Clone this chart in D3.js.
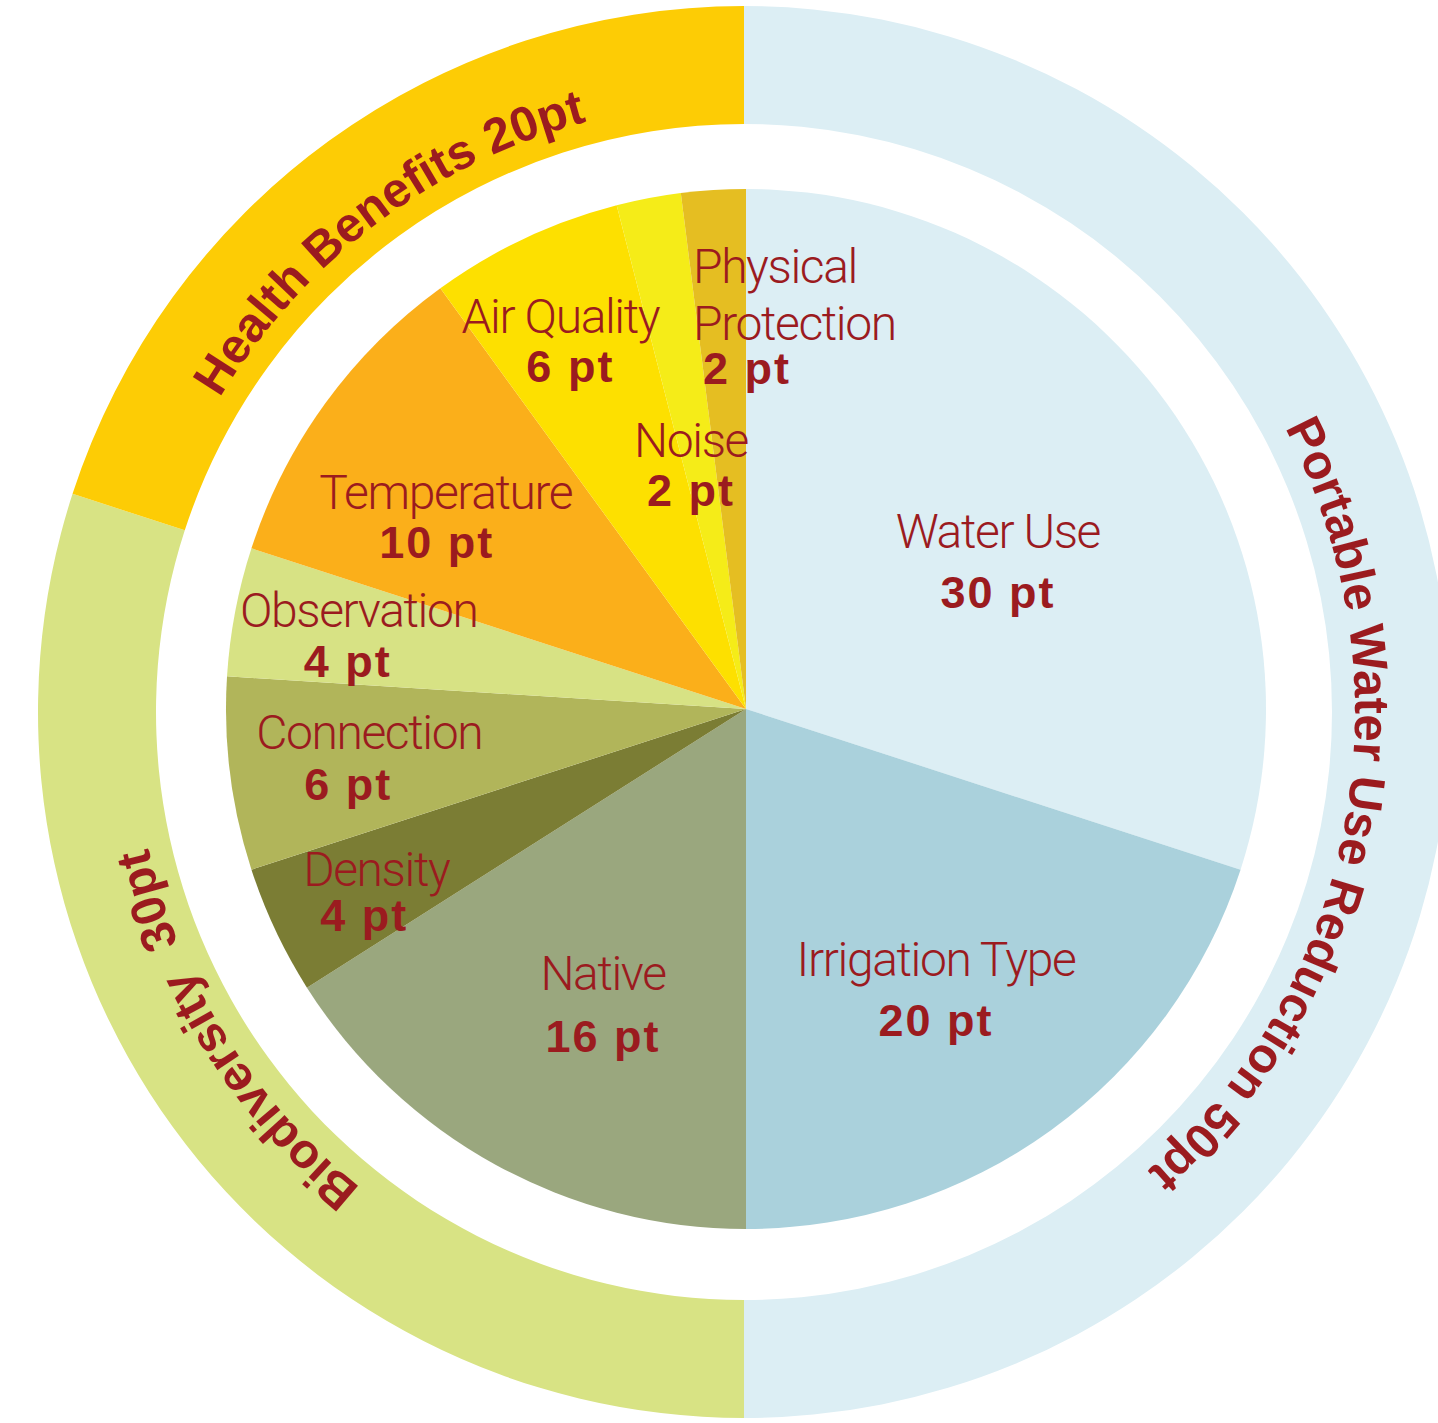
<!DOCTYPE html>
<html>
<head>
<meta charset="utf-8">
<script src="https://cdn.jsdelivr.net/npm/d3@7"></script>
<style>
  html, body { margin: 0; padding: 0; background: #ffffff; }
  svg { display: block; }
  .name { font-family: Roboto, "Liberation Sans", sans-serif; font-weight: 300; font-size: 48px; letter-spacing: -1.4px; }
  .value { font-family: "Liberation Sans", Arial, sans-serif; font-weight: 700; font-size: 45px; letter-spacing: 2px; }
  .group { font-family: "Liberation Sans", Arial, sans-serif; font-weight: 700; font-size: 49px; white-space: pre; }
</style>
</head>
<body>
<svg id="chart" width="1438" height="1423"></svg>
<script>
// Scoring criteria (inner pie), clockwise from 12 o'clock
const categories = ["Water Use", "Irrigation Type", "Native", "Density", "Connection",
                    "Observation", "Temperature", "Air Quality", "Noise", "Physical Protection"];
const points = [30, 20, 16, 4, 6, 4, 10, 6, 2, 2];
const sliceColors = ["#dceef4", "#aad1dc", "#9aa77e", "#7b7d34", "#b1b55a",
                     "#d7e284", "#fbaf1a", "#fde000", "#f5ec18", "#e5be22"];

// Criteria groups (outer ring)
const groups = ["Portable Water Use Reduction", "Biodiversity ", "Health Benefits"];
const groupPoints = [50, 30, 20];
const groupColors = ["#dceef4", "#d8e384", "#fdcc05"];

const textColor = "#9b1b1f";

const pieCenter = [746, 709], pieRadius = 520;
const ringCenter = [744, 712], ringInner = 588, ringOuter = 706;
const ringTextRadius = 611;

// Label placement: polar anchor (radius, degrees clockwise from top) of the name baseline
const labelLayout = {
  "Water Use":           { r: 299, a: 57.4,  gap: 60 },
  "Irrigation Type":     { r: 328, a: 144.6, gap: 60 },
  "Native":              { r: 315, a: 207.0, gap: 62 },
  "Density":             { r: 410, a: 244.4, gap: 45, vdx: -12 },
  "Connection":          { r: 379, a: 263.9, gap: 51, vdx: -21 },
  "Observation":         { r: 396, a: 282.0, gap: 50, vdx: -11 },
  "Temperature":         { r: 361, a: 303.7, gap: 49, vdx: -9 },
  "Air Quality":         { r: 419, a: 333.7, gap: 49, vdx: 10 },
  "Noise":               { r: 258, a: 347.7, gap: 49 },
  "Physical Protection": { r: 429, a: 352.9, gap: 101, vdx: 54, anchor: "start", wrap: true, lineGap: 57 }
};
// Angular shift (degrees) of each ring title relative to its segment middle
const groupLabelShift = [10.5, 4, -1];

const deg = Math.PI / 180;
const polar = (r, aDeg) => [r * Math.sin(aDeg * deg), -r * Math.cos(aDeg * deg)];

const svg = d3.select("#chart");
const defs = svg.append("defs");
const ringG = svg.append("g").attr("transform", `translate(${ringCenter[0]},${ringCenter[1]})`);
const pieG = svg.append("g").attr("transform", `translate(${pieCenter[0]},${pieCenter[1]})`);

const pie = d3.pie().sort(null).value(d => d);

// Outer ring
const ringArcs = pie(groupPoints);
const ringArc = d3.arc().innerRadius(ringInner).outerRadius(ringOuter);
ringG.selectAll("path.ring")
  .data(ringArcs)
  .join("path")
  .attr("class", "ring")
  .attr("d", ringArc)
  .attr("fill", (d, i) => groupColors[i]);

// Ring titles on clockwise arcs, centred on each segment
ringArcs.forEach((d, i) => {
  const mid = ((d.startAngle + d.endAngle) / 2) / deg + groupLabelShift[i];
  const [x0, y0] = polar(ringTextRadius, mid - 90);
  const [x1, y1] = polar(ringTextRadius, mid + 90);
  defs.append("path")
    .attr("id", "ringPath" + i)
    .attr("d", `M${x0},${y0} A${ringTextRadius},${ringTextRadius} 0 0 1 ${x1},${y1}`);
  ringG.append("text")
    .attr("class", "group")
    .attr("fill", textColor)
    .append("textPath")
    .attr("href", "#ringPath" + i)
    .attr("startOffset", "50%")
    .attr("text-anchor", "middle")
    .text(`${groups[i]} ${groupPoints[i]}pt`);
});

// Inner pie
const sliceArcs = pie(points);
const sliceArc = d3.arc().innerRadius(0).outerRadius(pieRadius);
pieG.selectAll("path.slice")
  .data(sliceArcs)
  .join("path")
  .attr("class", "slice")
  .attr("d", sliceArc)
  .attr("fill", (d, i) => sliceColors[i]);

// Slice labels
sliceArcs.forEach((d, i) => {
  const name = categories[i];
  const lay = labelLayout[name];
  const [x, y] = polar(lay.r, lay.a);
  const anchor = lay.anchor || "middle";
  const lines = lay.wrap ? name.split(" ") : [name];
  const t = pieG.append("text")
    .attr("class", "name")
    .attr("fill", textColor)
    .attr("text-anchor", anchor);
  lines.forEach((ln, k) => {
    t.append("tspan")
      .attr("x", x)
      .attr("y", y + k * (lay.lineGap || 0))
      .text(ln);
  });
  pieG.append("text")
    .attr("class", "value")
    .attr("fill", textColor)
    .attr("text-anchor", "middle")
    .attr("x", x + (lay.vdx || 0))
    .attr("y", y + lay.gap)
    .text(points[i] + " pt");
});
</script>
</body>
</html>
